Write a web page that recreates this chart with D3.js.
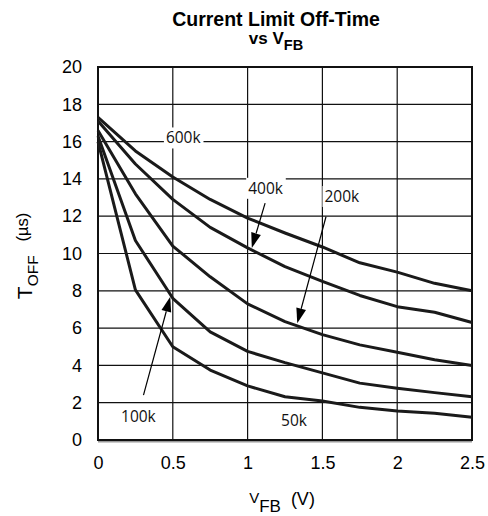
<!DOCTYPE html>
<html>
<head>
<meta charset="utf-8">
<script src="https://d3js.org/d3.v7.min.js"></script>
<style>
  body { margin: 0; padding: 0; background: #fff; }
  svg { display: block; }
  .tick text { font-family: "Liberation Sans", Arial, sans-serif; }
</style>
</head>
<body>
<svg id="chart" width="488" height="516"></svg>
<script>
// V_FB sample points (volts)
const vfb = [0, 0.25, 0.5, 0.75, 1, 1.25, 1.5, 1.75, 2, 2.25, 2.5];

// T_OFF (us) for each RT value
const toff600k = [17.3, 15.5, 14.1, 12.9, 11.9, 11.1, 10.35, 9.5, 9.0, 8.4, 8.0];
const toff400k = [17.1, 14.8, 12.9, 11.4, 10.3, 9.3, 8.5, 7.75, 7.15, 6.85, 6.3];
const toff200k = [16.6, 13.2, 10.4, 8.75, 7.3, 6.35, 5.65, 5.1, 4.7, 4.3, 4.0];
const toff100k = [16.3, 10.7, 7.6, 5.8, 4.75, 4.15, 3.6, 3.05, 2.78, 2.54, 2.32];
const toff50k  = [16.0, 8.05, 5.0, 3.75, 2.9, 2.32, 2.09, 1.75, 1.55, 1.43, 1.22];

const seriesNames = ['600k', '400k', '200k', '100k', '50k'];
const seriesValues = [toff600k, toff400k, toff200k, toff100k, toff50k];

// tick labels
const xTicks = [0, 0.5, 1, 1.5, 2, 2.5];
const yTicks = [0, 2, 4, 6, 8, 10, 12, 14, 16, 18, 20];

// curve labels (data coords)
const labelText = ['600k', '400k', '200k', '100k', '50k'];
const labelV = [0.57, 1.12, 1.63, 0.27, 1.31];
const labelT = [16.2, 13.5, 13.06, 1.29, 1.07];

// arrows: start -> tip (data coords)
const arrowFromV = [1.117, 1.524, 0.304];
const arrowFromT = [12.7, 11.97, 2.41];
const arrowToV = [1.028, 1.332, 0.483];
const arrowToT = [10.3, 6.26, 7.68];

const svg = d3.select('#chart');
const width = +svg.attr('width');
const height = +svg.attr('height');
const margin = { top: 67, right: 16, bottom: 76, left: 98 };

const x = d3.scaleLinear().domain([0, 2.5]).range([margin.left, width - margin.right]);
const y = d3.scaleLinear().domain([0, 20]).range([height - margin.bottom, margin.top]);

// grid
const grid = svg.append('g');
grid.selectAll('.vgrid')
  .data(xTicks.slice(1, -1))
  .enter().append('line')
  .attr('x1', d => x(d)).attr('x2', d => x(d))
  .attr('y1', y(20)).attr('y2', y(0))
  .attr('stroke', '#111').attr('stroke-width', 1.2);
grid.selectAll('.hgrid')
  .data(yTicks.slice(1, -1))
  .enter().append('line')
  .attr('x1', x(0)).attr('x2', x(2.5))
  .attr('y1', d => y(d)).attr('y2', d => y(d))
  .attr('stroke', '#111').attr('stroke-width', 1.2);

// bottom gray band along zero
svg.append('line')
  .attr('x1', x(0)).attr('x2', x(2.5))
  .attr('y1', y(0) + 1.2).attr('y2', y(0) + 1.2)
  .attr('stroke', '#999').attr('stroke-width', 2.4);

// frame
svg.append('rect')
  .attr('x', x(0)).attr('y', y(20))
  .attr('width', x(2.5) - x(0)).attr('height', y(0) - y(20))
  .attr('fill', 'none').attr('stroke', '#111').attr('stroke-width', 2);

// axes (labels only)
const xAxis = d3.axisBottom(x).tickValues(xTicks).tickSize(0).tickPadding(16)
  .tickFormat(d => d3.format('')(d));
svg.append('g')
  .attr('transform', `translate(0, ${y(0)})`)
  .call(xAxis)
  .call(g => g.select('.domain').remove())
  .selectAll('text').attr('font-size', 18).attr('fill', '#000');

const yAxis = d3.axisLeft(y).tickValues(yTicks).tickSize(0).tickPadding(16);
svg.append('g')
  .attr('transform', `translate(${x(0)}, 0)`)
  .call(yAxis)
  .call(g => g.select('.domain').remove())
  .selectAll('text').attr('font-size', 18).attr('fill', '#000');

// curves
const line = d3.line()
  .x((d, i) => x(vfb[i]))
  .y(d => y(d));

svg.append('g').selectAll('path')
  .data(seriesValues)
  .enter().append('path')
  .attr('d', d => line(d))
  .attr('fill', 'none')
  .attr('stroke', '#1a1a1a')
  .attr('stroke-width', 3)
  .attr('stroke-linejoin', 'round');

// arrows
const arrows = svg.append('g');
arrowFromV.forEach((v, i) => {
  const x1 = x(v), y1 = y(arrowFromT[i]);
  const x2 = x(arrowToV[i]), y2 = y(arrowToT[i]);
  const ang = Math.atan2(y2 - y1, x2 - x1);
  const len = 15, hw = 5;
  const bx = x2 - len * Math.cos(ang), by = y2 - len * Math.sin(ang);
  arrows.append('line')
    .attr('x1', x1).attr('y1', y1).attr('x2', bx).attr('y2', by)
    .attr('stroke', '#000').attr('stroke-width', 1.2);
  const p = [
    [x2, y2],
    [bx + hw * Math.sin(ang), by - hw * Math.cos(ang)],
    [bx - hw * Math.sin(ang), by + hw * Math.cos(ang)]
  ];
  arrows.append('path')
    .attr('d', 'M' + p.map(q => q.join(',')).join('L') + 'Z')
    .attr('fill', '#000');
});

// curve labels with white backing
const labels = svg.append('g');
labelText.forEach((t, i) => {
  const g = labels.append('g');
  const txt = g.append('text')
    .attr('x', x(labelV[i]))
    .attr('y', y(labelT[i]))
    .attr('dy', '0.36em')
    .attr('text-anchor', 'middle')
    .attr('font-family', '"Open Sans", sans-serif')
    .attr('font-size', 15.5)
    .attr('fill', '#111')
    .text(t);
  const bb = txt.node().getBBox();
  g.insert('rect', 'text')
    .attr('x', bb.x - 2).attr('y', bb.y + 1)
    .attr('width', bb.width + 4).attr('height', bb.height - 1)
    .attr('fill', '#fff');
});

// title
const title = svg.append('text')
  .attr('text-anchor', 'middle')
  .attr('font-family', '"Liberation Sans", Arial, sans-serif')
  .attr('font-weight', 'bold')
  .attr('fill', '#000');
title.append('tspan')
  .attr('x', 276).attr('y', 26)
  .attr('font-size', 19.5)
  .text('Current Limit Off-Time');
const t2 = svg.append('text')
  .attr('x', 276).attr('y', 43.5)
  .attr('text-anchor', 'middle')
  .attr('font-family', '"Liberation Sans", Arial, sans-serif')
  .attr('font-weight', 'bold')
  .attr('font-size', 17)
  .attr('fill', '#000');
t2.append('tspan').text('vs V');
t2.append('tspan').attr('dy', 6.5).attr('font-size', 14.5).text('FB');

// x axis label
const xl = svg.append('text')
  .attr('x', 282).attr('y', 503)
  .attr('text-anchor', 'middle')
  .attr('font-family', '"Liberation Sans", Arial, sans-serif')
  .attr('fill', '#000');
xl.append('tspan').attr('font-size', 15).text('V');
xl.append('tspan').attr('dy', 8.5).attr('font-size', 17).text('FB');
xl.append('tspan').attr('dy', -7).attr('font-size', 18).text('\u00a0\u00a0(V)');

// y axis label
const yl = svg.append('text')
  .attr('transform', `translate(31.5, 256) rotate(-90)`)
  .attr('text-anchor', 'middle')
  .attr('font-family', '"Liberation Sans", Arial, sans-serif')
  .attr('fill', '#000');
yl.append('tspan').attr('font-size', 21).text('T');
yl.append('tspan').attr('dy', 6.5).attr('font-size', 15.5).text('OFF');
yl.append('tspan').attr('dy', -10).attr('font-size', 16.5).text('\u00a0\u00a0\u00a0(\u00b5s)');
</script>
</body>
</html>
